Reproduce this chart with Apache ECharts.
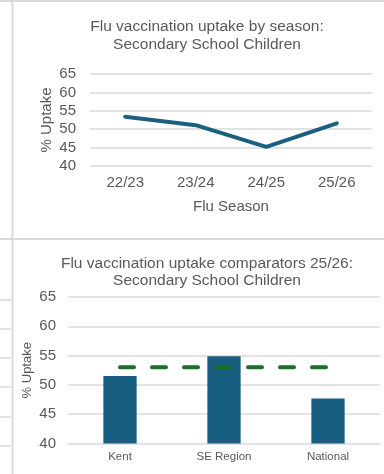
<!DOCTYPE html>
<html>
<head>
<meta charset="utf-8">
<script src="https://cdn.jsdelivr.net/npm/echarts@6/dist/echarts.min.js"></script>
<style>
  html, body { margin: 0; padding: 0; background: #ffffff; }
  #chart { width: 384px; height: 474px; }
</style>
</head>
<body>
<div id="chart"></div>
<script>
// Uptake by season (line chart)
const seasons = ['22/23', '23/24', '24/25', '25/26'];
const seasonUptake = [53.4, 51.1, 45.2, 51.6];

// Comparator areas for 25/26 (bar chart) and the dashed reference level
const areas = ['Kent', 'SE Region', 'National'];
const areaUptake = [51.5, 54.9, 47.7];
const referenceLevel = [53, 53, 53];

// Shared value-axis ticks
const yTicks = [40, 45, 50, 55, 60, 65];

const TEXT = '#595959';
const GRID_LINE = '#d9d9d9';
const FONT = '"Liberation Sans", Arial, sans-serif';

const chart = echarts.init(document.getElementById('chart'), null, { renderer: 'canvas' });

function valueAxis(gridIndex, nameSize, nameGap, labelMargin) {
  return {
    type: 'value',
    gridIndex: gridIndex,
    min: yTicks[0],
    max: yTicks[yTicks.length - 1],
    interval: yTicks[1] - yTicks[0],
    name: '% Uptake',
    nameLocation: 'middle',
    nameGap: nameGap,
    nameMoveOverlap: false,
    nameTextStyle: { color: TEXT, fontSize: nameSize, fontFamily: FONT },
    axisLine: { show: false },
    axisTick: { show: false },
    axisLabel: { color: TEXT, fontSize: 15, fontFamily: FONT, margin: labelMargin },
    splitLine: { lineStyle: { color: GRID_LINE, width: 1.5 } }
  };
}

// Panel frame lines of the surrounding dashboard
const frame = [
  { type: 'rect', shape: { x: 11.5, y: 0, width: 2, height: 474 }, style: { fill: GRID_LINE }, silent: true },
  { type: 'rect', shape: { x: 0, y: 0, width: 384, height: 2 }, style: { fill: GRID_LINE }, silent: true },
  { type: 'rect', shape: { x: 0, y: 238, width: 384, height: 2 }, style: { fill: GRID_LINE }, silent: true }
];
[300, 329, 358, 387, 417, 446].forEach(function (y) {
  frame.push({ type: 'line', shape: { x1: 0, y1: y, x2: 11, y2: y }, style: { stroke: GRID_LINE, lineWidth: 1.5 }, silent: true });
});

chart.setOption({
  animation: false,
  backgroundColor: '#ffffff',
  title: [
    {
      text: 'Flu vaccination uptake by season:\nSecondary School Children',
      left: 202, top: 13, textAlign: 'center',
      textStyle: { color: TEXT, fontSize: 15.5, fontWeight: 'normal', fontFamily: FONT, lineHeight: 18 }
    },
    {
      text: 'Flu vaccination uptake comparators 25/26:\nSecondary School Children',
      left: 202, top: 250, textAlign: 'center',
      textStyle: { color: TEXT, fontSize: 15.5, fontWeight: 'normal', fontFamily: FONT, lineHeight: 17 }
    }
  ],
  grid: [
    { left: 90, right: 12, top: 74, height: 92 },
    { left: 68, right: 4, top: 297, height: 146.5 }
  ],
  xAxis: [
    {
      type: 'category', gridIndex: 0, data: seasons, boundaryGap: true,
      name: 'Flu Season', nameLocation: 'middle', nameGap: 33,
      nameMoveOverlap: false,
      nameTextStyle: { color: TEXT, fontSize: 15, fontFamily: FONT },
      axisLine: { show: false }, axisTick: { show: false },
      axisLabel: { color: TEXT, fontSize: 15, fontFamily: FONT, margin: 9 }
    },
    {
      type: 'category', gridIndex: 1, data: areas, boundaryGap: true,
      axisLine: { show: false }, axisTick: { show: false },
      axisLabel: { color: TEXT, fontSize: 11.5, fontFamily: FONT, margin: 7 }
    }
  ],
  yAxis: [
    valueAxis(0, 15, 36, 14),
    valueAxis(1, 13, 34, 12)
  ],
  series: [
    {
      type: 'line', xAxisIndex: 0, yAxisIndex: 0, data: seasonUptake,
      showSymbol: false, symbol: 'none',
      lineStyle: { color: '#1b5e80', width: 4, cap: 'round', join: 'round' }
    },
    {
      type: 'bar', xAxisIndex: 1, yAxisIndex: 1, data: areaUptake,
      barWidth: '32%',
      itemStyle: { color: '#175e81' }
    },
    {
      type: 'line', xAxisIndex: 1, yAxisIndex: 1, data: referenceLevel,
      showSymbol: false, symbol: 'none', z: 5,
      lineStyle: { color: '#1e6b2c', width: 4, type: [14, 18], cap: 'round' }
    }
  ],
  graphic: frame
});
</script>
</body>
</html>
